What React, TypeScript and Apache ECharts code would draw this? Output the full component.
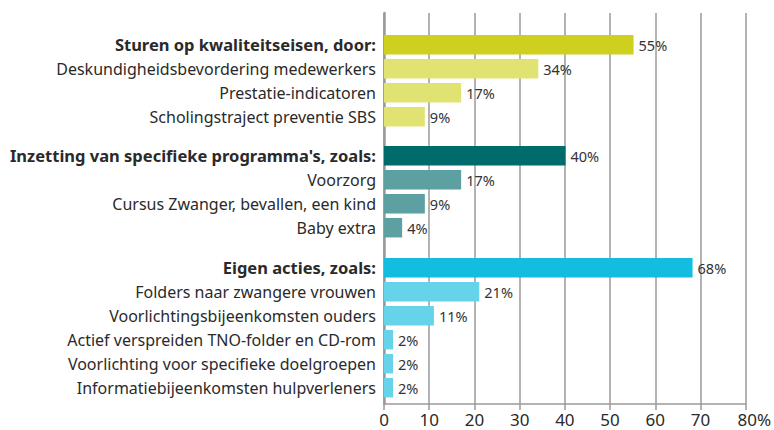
import React, { useEffect, useRef } from "react";
import * as echarts from "echarts";

const groupTitles = [
  "Sturen op kwaliteitseisen, door:",
  "Inzetting van specifieke programma's, zoals:",
  "Eigen acties, zoals:",
];
const group1Labels = [
  "Deskundigheidsbevordering medewerkers",
  "Prestatie-indicatoren",
  "Scholingstraject preventie SBS",
];
const group2Labels = ["Voorzorg", "Cursus Zwanger, bevallen, een kind", "Baby extra"];
const group3Labels = [
  "Folders naar zwangere vrouwen",
  "Voorlichtingsbijeenkomsten ouders",
  "Actief verspreiden TNO-folder en CD-rom",
  "Voorlichting voor specifieke doelgroepen",
  "Informatiebijeenkomsten hulpverleners",
];
const headerValues = [55, 40, 68];
const group1Values = [34, 17, 9];
const group2Values = [17, 9, 4];
const group3Values = [21, 11, 2, 2, 2];
const xTicks = [0, 10, 20, 30, 40, 50, 60, 70, 80];

const headerColors = ["#cfcf1f", "#006b6b", "#12bde0"];
const subColors = ["#e0e372", "#5ca0a2", "#66d3ea"];

const FONT = "Noto Sans";

export default function App() {
  const ref = useRef<HTMLDivElement>(null);
  useEffect(() => {
    const chart = echarts.init(ref.current!, null, { renderer: "svg" });
    const groups = [
      { labels: group1Labels, values: group1Values, top: 32.7 },
      { labels: group2Labels, values: group2Values, top: 143.7 },
      { labels: group3Labels, values: group3Values, top: 255.7 },
    ];
    const rowH = 24;
    const grids: any[] = [];
    const xAxes: any[] = [];
    const yAxes: any[] = [];
    const series: any[] = [];
    groups.forEach((g, i) => {
      const cats = [groupTitles[i], ...g.labels];
      const vals = [headerValues[i], ...g.values];
      grids.push({ left: 384, right: 27, top: g.top, height: rowH * cats.length });
      xAxes.push({
        gridIndex: i,
        type: "value",
        min: 0,
        max: 80,
        show: false,
      });
      yAxes.push({
        gridIndex: i,
        type: "category",
        inverse: true,
        data: cats,
        axisLine: { show: false },
        axisTick: { show: false },
        axisLabel: {
          margin: 8,
          fontFamily: FONT,
          fontSize: 16,
          color: "#2a2a2a",
          formatter: (v: string, idx: number) => (idx === 0 ? "{b|" + v + "}" : v),
          rich: {
            b: { fontFamily: FONT, fontSize: 16.5, fontWeight: "bold", color: "#2a2a2a" },
          },
        },
      });
      series.push({
        type: "bar",
        xAxisIndex: i,
        yAxisIndex: i,
        barWidth: 19.5,
        data: vals.map((v, j) => ({
          value: v,
          itemStyle: { color: j === 0 ? headerColors[i] : subColors[i] },
        })),
        label: {
          show: true,
          position: "right",
          distance: 5,
          formatter: "{c}%",
          fontFamily: FONT,
          fontSize: 14.5,
          color: "#333",
        },
      });
    });
    // axis grid
    grids.push({ left: 384, right: 27, top: 13, height: 391 });
    xAxes.push({
      gridIndex: 3,
      type: "value",
      min: 0,
      max: 80,
      interval: 10,
      axisLine: { show: true, lineStyle: { color: "#9a9a9a", width: 1.5 } },
      axisTick: { show: true, length: 6, lineStyle: { color: "#9a9a9a", width: 1.5 } },
      splitLine: { show: true, lineStyle: { color: "#9a9a9a", width: 1.5 } },
      axisLabel: {
        margin: 7,
        fontFamily: FONT,
        fontSize: 17,
        color: "#2a2a2a",
        formatter: (v: number) => (v === xTicks[xTicks.length - 1] ? "{p|" + v + "%}" : String(v)),
        rich: { p: { fontFamily: FONT, fontSize: 17, color: "#2a2a2a", padding: [0, 0, 0, 17] } },
      },
    });
    yAxes.push({
      gridIndex: 3,
      type: "value",
      min: 0,
      max: 1,
      axisLine: { show: true, lineStyle: { color: "#9a9a9a", width: 2.5 } },
      axisTick: { show: false },
      axisLabel: { show: false },
      splitLine: { show: false },
    });
    series.push({ type: "bar", xAxisIndex: 3, yAxisIndex: 3, data: [], z: 0 });
    chart.setOption({
      animation: false,
      grid: grids,
      xAxis: xAxes,
      yAxis: yAxes,
      series,
    });
    return () => chart.dispose();
  }, []);
  return <div ref={ref} style={{ width: 774, height: 430, position: "absolute", left: 0, top: 0 }} />;
}
